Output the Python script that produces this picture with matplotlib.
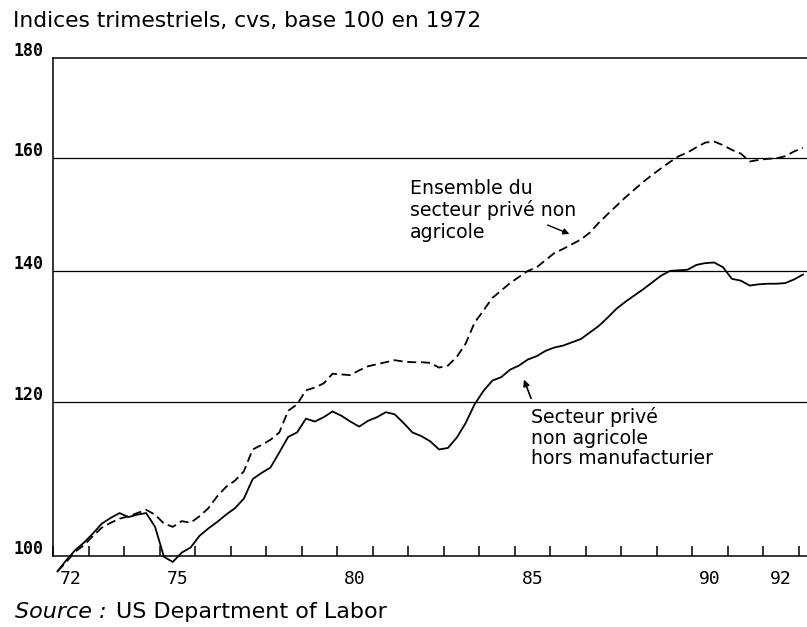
import numpy as np
import matplotlib
matplotlib.use("Agg")
import matplotlib.pyplot as plt
import matplotlib.transforms as mtransforms

# ---------------- data (quarterly, 1972Q1 .. 1993Q1) ----------------
start_year = 1972
hors_manuf = [
    98.2, 99.5, 100.7, 101.6, 102.7, 103.9, 104.6, 105.2, 104.7, 105.0,
    105.2, 103.5, 99.9, 99.3, 100.4, 101.0, 102.4, 103.3, 104.1, 105.0,
    105.8, 107.0, 109.5, 110.3, 111.0, 113.0, 115.1, 115.7, 117.6, 117.2,
    117.8, 118.6, 118.0, 117.2, 116.5, 117.3, 117.8, 118.5, 118.2, 117.0,
    115.7, 115.2, 114.5, 113.4, 113.6, 115.0, 117.0, 119.6, 121.5, 123.0,
    123.5, 124.6, 125.2, 126.1, 126.6, 127.4, 127.9, 128.2, 128.7, 129.2,
    130.2, 131.2, 132.5, 133.9, 135.0, 136.0, 137.0, 138.1, 139.2, 140.0,
    140.1, 140.2, 141.0, 141.3, 141.4, 140.6, 138.7, 138.4, 137.6, 137.8,
    137.9, 137.9, 138.0, 138.6, 139.4,
]
ensemble = [
    98.2, 99.3, 100.5, 101.3, 102.4, 103.4, 104.0, 104.5, 104.8, 105.2,
    105.6, 105.0, 103.9, 103.5, 104.2, 104.0, 104.8, 105.8, 107.3, 108.5,
    109.3, 110.5, 113.4, 114.0, 114.7, 115.7, 118.7, 119.6, 121.6, 122.0,
    122.6, 124.0, 123.9, 123.8, 124.5, 125.1, 125.4, 125.7, 126.0, 125.8,
    125.7, 125.7, 125.6, 124.9, 125.2, 126.5, 128.5, 131.7, 133.6, 135.6,
    136.8, 138.0, 139.0, 140.0, 140.6, 141.8, 143.0, 143.7, 144.5, 145.3,
    146.5, 148.2, 149.7, 151.2, 152.7, 154.1, 155.5, 156.8, 158.0, 159.2,
    160.3, 161.0, 162.0, 162.9, 163.1, 162.4, 161.5, 160.8, 159.3, 159.6,
    159.8, 159.9, 160.3, 161.2, 161.9,
]
y_ticks = [100, 120, 140, 160, 180]
y_labels = ["100", "120", "140", "160", "180"]
x_label_years = [1972, 1975, 1980, 1985, 1990, 1992]
x_labels = ["72", "75", "80", "85", "90", "92"]
title = "Indices trimestriels, cvs, base 100 en 1972"
label_ensemble = ["Ensemble du", "secteur privé non", "agricole"]
label_hors = ["Secteur privé", "non agricole", "hors manufacturier"]

# ---------------- figure ----------------
W, H, DPI = 807, 627, 100
fig = plt.figure(figsize=(W / DPI, H / DPI), dpi=DPI)
fig.patch.set_facecolor("white")

left_px, right_px, top_px, bottom_px = 53, 808, 58, 556
ax = fig.add_axes([left_px / W, 1 - bottom_px / H,
                   (right_px - left_px) / W, (bottom_px - top_px) / H])

t = start_year + (np.arange(len(ensemble)) + 0.5) / 4.0
ax.plot(t, hors_manuf, color="black", lw=1.3, clip_on=False, zorder=3)
ax.plot(t, ensemble, color="black", lw=1.3, ls=(0, (5, 2.6)),
        clip_on=False, zorder=3)

ax.set_yscale("log")
ax.set_ylim(100, 180)
ax.set_xlim(1972, 1972 + (right_px - left_px) / 35.5)

# horizontal reference lines
for v in y_ticks[1:-1]:
    ax.axhline(v, color="black", lw=0.9, zorder=1)

for s in ["left", "bottom", "top"]:
    ax.spines[s].set_linewidth(1.1)
ax.spines["right"].set_visible(False)

# y labels (placed above their lines, left of the axis)
ax.yaxis.set_major_locator(matplotlib.ticker.FixedLocator(y_ticks))
ax.yaxis.set_minor_locator(matplotlib.ticker.NullLocator())
ax.set_yticklabels(y_labels, fontfamily="DejaVu Sans Mono", fontsize=12,
                   fontweight="bold")
ax.tick_params(axis="y", length=0, pad=7)
off = mtransforms.ScaledTranslation(0, 9 / DPI, fig.dpi_scale_trans)
for lab in ax.get_yticklabels():
    lab.set_transform(lab.get_transform() + off)

# x: year-boundary ticks inside, labels centred on years
years = np.arange(1972, 1994)
ax.set_xticks(years)
ax.set_xticklabels([])
ax.tick_params(axis="x", which="major", direction="in", length=7,
               width=1.1, top=False)
ax.set_xticks(np.array(x_label_years) + 0.5, minor=True)
ax.set_xticklabels(x_labels, minor=True, fontfamily="DejaVu Sans Mono",
                   fontsize=13)
ax.tick_params(axis="x", which="minor", length=0, pad=10)

# titles / source
fig.text(13 / W, 1 - 21 / H, title, fontsize=15.7, fontfamily="DejaVu Sans",
         va="center", ha="left")
src = fig.text(15 / W, 1 - 612 / H, "Source :", fontsize=16, style="italic",
               fontfamily="DejaVu Sans", va="center", ha="left")
fig.canvas.draw()
bb = src.get_window_extent()
fig.text((bb.x1 + 9) / W, 1 - 612 / H, "US Department of Labor", fontsize=16,
         fontfamily="DejaVu Sans", va="center", ha="left")

# annotations
def px(x, y):
    return (x / W, 1 - y / H)

for i, line in enumerate(label_ensemble):
    fig.text(410 / W, 1 - (188 + 22 * i) / H, line, fontsize=13.6,
             fontfamily="DejaVu Sans", va="center", ha="left")
for i, line in enumerate(label_hors):
    fig.text(531 / W, 1 - (417 + 21 * i) / H, line, fontsize=13.6,
             fontfamily="DejaVu Sans", va="center", ha="left")

ax.annotate("", xy=px(572, 235), xycoords="figure fraction",
            xytext=px(545, 224), textcoords="figure fraction",
            arrowprops=dict(arrowstyle="-|>", color="black", lw=1,
                            mutation_scale=9))
ax.annotate("", xy=px(523, 377), xycoords="figure fraction",
            xytext=px(532, 401), textcoords="figure fraction",
            arrowprops=dict(arrowstyle="-|>", color="black", lw=1.2,
                            mutation_scale=9))

fig.savefig("out.png", dpi=DPI, facecolor="white")
